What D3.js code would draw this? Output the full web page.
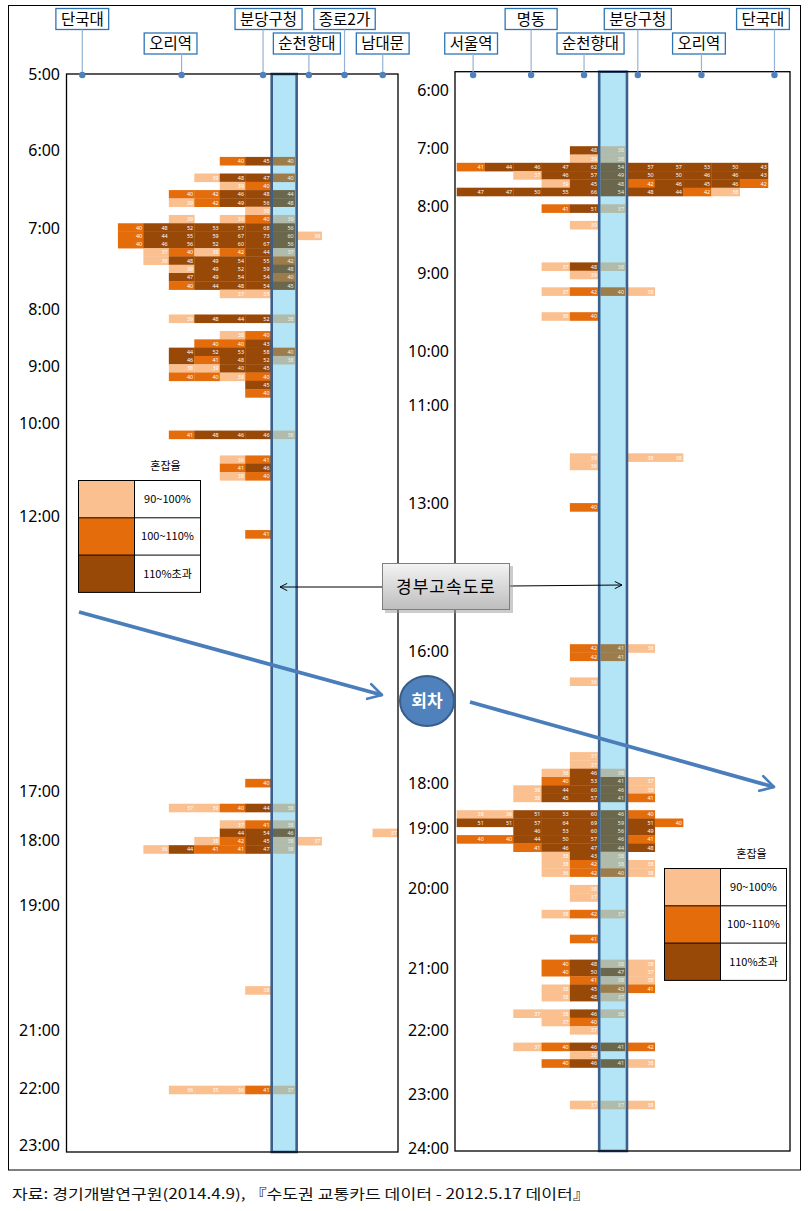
<!DOCTYPE html>
<html><head><meta charset="utf-8">
<script src="https://cdn.jsdelivr.net/npm/d3@7"></script>
<style>body{margin:0;background:#fff}</style>
</head><body>
<svg id="c" width="810" height="1211" xmlns="http://www.w3.org/2000/svg"></svg>
<script>
// ================= DATA =================
const levelLabels = ["90~100%", "100~110%", "110%초과"];
const legendTitle = "혼잡율";
const highwayLabel = "경부고속도로";
const turnLabel = "회차";
const sourceText = "자료: 경기개발연구원(2014.4.9), 『수도권 교통카드 데이터 - 2012.5.17 데이터』";

// left panel (outbound)
const leftStations = ["단국대", "오리역", "분당구청", "순천향대", "종로2가", "남대문"];
const leftStationCol = [0.6, 4.5, 7.7, 9.5, 10.9, 12.4];
const leftTimes = ["5:00","6:00","7:00","8:00","9:00","10:00","12:00","17:00","18:00","19:00","21:00","22:00","23:00"];
const leftTimeRows = [0, 9.2, 18.6, 28.4, 35.2, 42.1, 53.3, 86.5, 92.4, 100.2, 115.3, 122.3, 129.2];
const leftHighwayCol = 8;
// [trip row, first segment, congestion levels (0 none,1,2,3), passengers]
const leftTrips = [
  [10, 6, "232", [40,45,40]],
  [12, 5, "1332", [39,48,47,40]],
  [13, 6, "12", [39,40]],
  [14, 4, "22333", [40,42,46,48,44]],
  [15, 4, "12333", [39,42,49,56,48]],
  [16, 7, "1", [38]],
  [17, 4, "10121", [39,0,39,40,39]],
  [18, 2, "2333333", [40,48,52,53,57,68,56]],
  [19, 2, "23333331", [40,44,55,59,67,73,60,39]],
  [20, 2, "2333333", [40,46,56,52,60,67,56]],
  [21, 3, "121231", [37,40,39,42,44,37]],
  [22, 3, "133332", [39,48,49,54,55,42]],
  [23, 4, "13333", [39,49,52,59,48]],
  [24, 4, "33332", [47,49,54,54,40]],
  [25, 4, "23333", [40,44,48,54,45]],
  [26, 6, "11", [37,35]],
  [29, 4, "13331", [39,48,44,52,38]],
  [31, 6, "12", [38,40]],
  [32, 5, "223", [40,40,43]],
  [33, 4, "33332", [44,52,53,58,40]],
  [34, 4, "32331", [46,41,48,52,38]],
  [35, 4, "1133", [38,39,40,45]],
  [36, 4, "2212", [40,40,38,40]],
  [37, 7, "3", [45]],
  [38, 7, "2", [40]],
  [43, 4, "23331", [41,48,46,46,38]],
  [46, 6, "12", [36,41]],
  [47, 6, "23", [41,46]],
  [48, 6, "12", [38,40]],
  [55, 7, "2", [41]],
  [85, 7, "2", [40]],
  [88, 4, "11231", [37,39,40,44,38]],
  [90, 6, "121", [37,41,38]],
  [91, 6, "3330001", [44,54,46,0,0,0,37]],
  [92, 5, "12311", [38,42,45,38,37]],
  [93, 3, "132231", [36,44,41,41,47,38]],
  [110, 7, "1", [38]],
  [122, 4, "11121", [36,35,36,41,37]]
];

// right panel (return)
const rightStations = ["서울역", "명동", "순천향대", "분당구청", "오리역", "단국대"];
const rightStationCol = [0.58, 2.63, 4.5, 6.4, 8.65, 11.23];
const rightTimes = ["6:00","7:00","8:00","9:00","10:00","11:00","13:00","16:00","18:00","19:00","20:00","21:00","22:00","23:00","24:00"];
const rightTimeRows = [2.2, 9.2, 16.2, 24.3, 33.7, 40.2, 52, 69.9, 85.7, 91.2, 98.4, 108, 115.5, 123.2, 129.7];
const rightHighwayCol = 5;
const rightTrips = [
  [9, 4, "31", [48,38]],
  [10, 4, "11", [39,38]],
  [11, 0, "23333333333", [41,44,46,47,62,54,57,57,53,50,43]],
  [12, 2, "133333333", [37,46,57,49,50,50,46,46,43]],
  [13, 3, "13323332", [39,45,48,42,46,45,46,42]],
  [14, 0, "3333333321", [47,47,50,55,66,54,48,44,42,38]],
  [16, 3, "231", [41,51,37]],
  [18, 4, "1", [39]],
  [23, 3, "131", [37,48,38]],
  [24, 4, "1", [39]],
  [26, 3, "1221", [37,42,40,38]],
  [29, 3, "12", [36,40]],
  [46, 4, "1011", [39,0,38,38]],
  [47, 4, "1", [36]],
  [52, 4, "2", [40]],
  [69, 4, "221", [42,41,38]],
  [70, 4, "22", [42,41]],
  [73, 4, "1", [36]],
  [82, 4, "1", [37]],
  [83, 4, "1", [37]],
  [84, 3, "131", [36,46,38]],
  [85, 3, "2331", [40,53,41,37]],
  [86, 2, "13331", [38,44,60,46,39]],
  [87, 2, "13332", [38,45,57,41,41]],
  [89, 0, "1133332", [38,36,51,53,60,46,40]],
  [90, 0, "33333332", [51,51,57,64,69,59,51,40]],
  [91, 2, "33333", [46,53,60,56,49]],
  [92, 0, "2233332", [40,40,44,50,57,46,41]],
  [93, 2, "23333", [41,46,47,44,48]],
  [94, 3, "131", [38,43,38]],
  [95, 3, "1211", [38,42,38,38]],
  [96, 3, "1221", [36,42,40,38]],
  [98, 4, "1", [38]],
  [99, 4, "1", [37]],
  [101, 3, "121", [38,42,37]],
  [104, 4, "2", [41]],
  [107, 3, "2311", [40,48,38,38]],
  [108, 3, "2331", [40,50,47,37]],
  [109, 4, "211", [41,38,38]],
  [110, 3, "1322", [38,45,43,41]],
  [111, 3, "131", [38,48,37]],
  [113, 2, "1131", [37,38,46,38]],
  [114, 3, "12", [37,40]],
  [115, 4, "1", [37]],
  [117, 2, "12332", [37,40,46,41,42]],
  [118, 4, "1", [38]],
  [119, 3, "2331", [40,46,41,38]],
  [124, 4, "111", [37,37,38]]
];

// ================= STYLE / LAYOUT =================
const pal = ["#fac090", "#e46c0a", "#984807"];
const palHw = ["#b1bbab", "#9c7c4b", "#6a674c"];
const FONT = "'Noto Sans CJK KR','Noto Sans',sans-serif";
const NUMFONT = "'Noto Sans','DejaVu Sans',sans-serif";

const panels = [
  { trips: leftTrips, stations: leftStations, stationCol: leftStationCol,
    times: leftTimes, timeRows: leftTimeRows, hw: leftHighwayCol,
    frame: [66.5, 74, 398, 1152], colDomain: [0, 13], colRange: [67, 398],
    rowRange: [74, 1152], tickX: 60, firstTier: 0,
    labelDx: [0, -11, 5.5, -2, 0, 0] },
  { trips: rightTrips, stations: rightStations, stationCol: rightStationCol,
    times: rightTimes, timeRows: rightTimeRows, hw: rightHighwayCol,
    frame: [455, 71.7, 790, 1151], colDomain: [0, 11.8], colRange: [456.7, 790.6],
    rowRange: [71.5, 1150.5], tickX: 449, firstTier: 1,
    labelDx: [-2, 0, 6.5, 0, -2.5, -11.5] }
];

const svg = d3.select("#c");
const defs = svg.append("defs");
const grad = defs.append("linearGradient").attr("id", "gbox").attr("x1", 0).attr("y1", 0).attr("x2", 0).attr("y2", 1);
grad.append("stop").attr("offset", "0%").attr("stop-color", "#f4f4f4");
grad.append("stop").attr("offset", "100%").attr("stop-color", "#bdbdbd");
defs.append("marker").attr("id", "thinArrow").attr("viewBox", "0 0 10 10").attr("refX", 9).attr("refY", 5)
  .attr("markerWidth", 9).attr("markerHeight", 9).attr("markerUnits", "userSpaceOnUse").attr("orient", "auto")
  .append("path").attr("d", "M1,1 L9,5 L1,9").attr("fill", "none").attr("stroke", "#000").attr("stroke-width", 1.1);
defs.append("marker").attr("id", "bigArrow").attr("viewBox", "0 0 10 10").attr("refX", 8).attr("refY", 5)
  .attr("markerWidth", 5).attr("markerHeight", 5).attr("orient", "auto")
  .append("path").attr("d", "M1,1 L8,5 L1,9").attr("fill", "none").attr("stroke", "#4a7ebb").attr("stroke-width", 1.4)
  .attr("stroke-linecap", "round").attr("stroke-linejoin", "round");

// outer frame
svg.append("rect").attr("x", 8.5).attr("y", 5.5).attr("width", 792).attr("height", 1164.5)
  .attr("fill", "none").attr("stroke", "#000").attr("stroke-width", 1);

panels.forEach(p => {
  const x = d3.scaleLinear().domain(p.colDomain).range(p.colRange);
  const y = d3.scaleLinear().domain([0, 130]).range(p.rowRange);
  const cw = x(1) - x(0), rh = y(1) - y(0);
  const g = svg.append("g");
  const [fx0, fy0, fx1, fy1] = p.frame;

  // highway band fill
  g.append("rect").attr("x", x(p.hw) + 1).attr("y", fy0).attr("width", cw - 0.5).attr("height", fy1 - fy0)
    .attr("fill", "#b4e5f7");

  // cells
  const cells = [];
  p.trips.forEach(([row, start, lv, vals]) => {
    lv.split("").forEach((ch, i) => {
      const l = +ch;
      if (l > 0) cells.push({ row, col: start + i, l, v: vals[i] });
    });
  });
  g.selectAll("rect.cell").data(cells).join("rect").attr("class", "cell")
    .attr("x", d => d.col === p.hw ? x(d.col) + 2.2 : x(d.col))
    .attr("y", d => y(d.row))
    .attr("width", d => d.col === p.hw ? cw - 3.4 : cw + 0.3)
    .attr("height", rh + 0.3)
    .attr("fill", d => (d.col === p.hw ? palHw : pal)[d.l - 1]);
  g.selectAll("text.num").data(cells).join("text").attr("class", "num")
    .attr("x", d => x(d.col + 1) - (d.col === p.hw ? 2.5 : 1.2))
    .attr("y", d => y(d.row) + rh / 2 + 2.1)
    .attr("text-anchor", "end").attr("font-size", 5.4).attr("font-family", NUMFONT)
    .attr("fill", d => d.col === p.hw ? "#e6f4e6" : "#ffffff")
    .text(d => d.v);

  // highway band outline
  g.append("rect").attr("x", x(p.hw) + 1).attr("y", fy0).attr("width", cw - 0.5).attr("height", fy1 - fy0)
    .attr("fill", "none").attr("stroke", "#3d5f8c").attr("stroke-width", 2.6);

  // panel frame
  g.append("rect").attr("x", fx0).attr("y", fy0).attr("width", fx1 - fx0).attr("height", fy1 - fy0)
    .attr("fill", "none").attr("stroke", "#000").attr("stroke-width", 1.3);

  // time labels
  g.selectAll("text.tm").data(p.times).join("text").attr("class", "tm")
    .attr("x", p.tickX).attr("y", (d, i) => y(p.timeRows[i]))
    .attr("dy", "0.36em").attr("text-anchor", "end")
    .attr("font-size", 16).attr("font-family", NUMFONT).attr("fill", "#000")
    .text(d => d);

  // station labels
  p.stations.forEach((s, i) => {
    const sx = x(p.stationCol[i]);
    const tier = (i + p.firstTier) % 2;
    const by0 = tier === 0 ? 8.5 : 33, bh = 21;
    const cx = sx + p.labelDx[i];
    g.append("line").attr("x1", sx).attr("x2", sx).attr("y1", by0 + bh).attr("y2", 75)
      .attr("stroke", "#95b3d7").attr("stroke-width", 1.2);
    const t = g.append("text").attr("x", cx).attr("y", by0 + bh / 2).attr("dy", "0.36em")
      .attr("text-anchor", "middle").attr("font-size", 15.5).attr("font-family", FONT).attr("fill", "#000").text(s);
    const tw = t.node().getComputedTextLength();
    const bw = Math.max(tw + 10, 52);
    g.insert("rect", "text").attr("x", cx - bw / 2).attr("y", by0).attr("width", bw).attr("height", bh)
      .attr("fill", "#fff").attr("stroke", "#2e75b6").attr("stroke-width", 1.3);
    g.append("circle").attr("cx", sx).attr("cy", 75).attr("r", 3.2).attr("fill", "#4f81bd");
  });
});

// legends
function legend(x0, y0) {
  const lg = svg.append("g");
  lg.append("text").attr("x", x0 + 87).attr("y", y0 - 14).attr("dy", "0.36em").attr("text-anchor", "middle")
    .attr("font-size", 11).attr("font-family", FONT).attr("fill", "#000").text(legendTitle);
  const rH = 37.3, sw = 56, w = 122;
  levelLabels.forEach((lab, i) => {
    lg.append("rect").attr("x", x0).attr("y", y0 + i * rH).attr("width", sw).attr("height", rH).attr("fill", pal[i]);
    lg.append("text").attr("x", x0 + sw + (w - sw) / 2).attr("y", y0 + i * rH + rH / 2).attr("dy", "0.36em")
      .attr("text-anchor", "middle").attr("font-size", 11).attr("font-family", FONT).attr("fill", "#000").text(lab);
  });
  lg.append("rect").attr("x", x0).attr("y", y0).attr("width", w).attr("height", rH * 3)
    .attr("fill", "none").attr("stroke", "#000").attr("stroke-width", 1);
  [1, 2].forEach(i => lg.append("line").attr("x1", x0).attr("x2", x0 + w).attr("y1", y0 + i * rH).attr("y2", y0 + i * rH)
    .attr("stroke", "#000").attr("stroke-width", 1));
  lg.append("line").attr("x1", x0 + sw).attr("x2", x0 + sw).attr("y1", y0).attr("y2", y0 + rH * 3)
    .attr("stroke", "#000").attr("stroke-width", 1);
}
legend(78.5, 480.5);
legend(664.5, 868.5);

// highway callout with arrows
svg.append("line").attr("x1", 382).attr("y1", 587).attr("x2", 280).attr("y2", 587)
  .attr("stroke", "#000").attr("stroke-width", 1).attr("marker-end", "url(#thinArrow)");
svg.append("line").attr("x1", 510).attr("y1", 586).attr("x2", 622).attr("y2", 585)
  .attr("stroke", "#000").attr("stroke-width", 1).attr("marker-end", "url(#thinArrow)");
svg.append("rect").attr("x", 385).attr("y", 566).attr("width", 128).attr("height", 47).attr("fill", "#9a9a9a").attr("opacity", 0.5);
svg.append("rect").attr("x", 382.5).attr("y", 563.5).attr("width", 127).attr("height", 46)
  .attr("fill", "url(#gbox)").attr("stroke", "#7f7f7f").attr("stroke-width", 1);
svg.append("text").attr("x", 446).attr("y", 587).attr("dy", "0.36em").attr("text-anchor", "middle")
  .attr("font-size", 17).attr("letter-spacing", 1).attr("font-family", FONT).attr("fill", "#000").text(highwayLabel);

// turnaround arrows
svg.append("line").attr("x1", 79).attr("y1", 612).attr("x2", 382).attr("y2", 695)
  .attr("stroke", "#4a7ebb").attr("stroke-width", 3.8).attr("marker-end", "url(#bigArrow)");
svg.append("line").attr("x1", 470).attr("y1", 702).attr("x2", 774).attr("y2", 787)
  .attr("stroke", "#4a7ebb").attr("stroke-width", 3.8).attr("marker-end", "url(#bigArrow)");
svg.append("ellipse").attr("cx", 427).attr("cy", 701).attr("rx", 27).attr("ry", 25)
  .attr("fill", "#4f81bd").attr("stroke", "#385d8a").attr("stroke-width", 2);
svg.append("text").attr("x", 427).attr("y", 701).attr("dy", "0.36em").attr("text-anchor", "middle")
  .attr("font-size", 17).attr("font-weight", "bold").attr("font-family", FONT).attr("fill", "#fff").text(turnLabel);

// source
svg.append("text").attr("x", 12).attr("y", 1199).attr("font-size", 14).attr("font-family", FONT)
  .attr("fill", "#111").attr("textLength", 578).attr("lengthAdjust", "spacingAndGlyphs").text(sourceText);
</script>
</body></html>
